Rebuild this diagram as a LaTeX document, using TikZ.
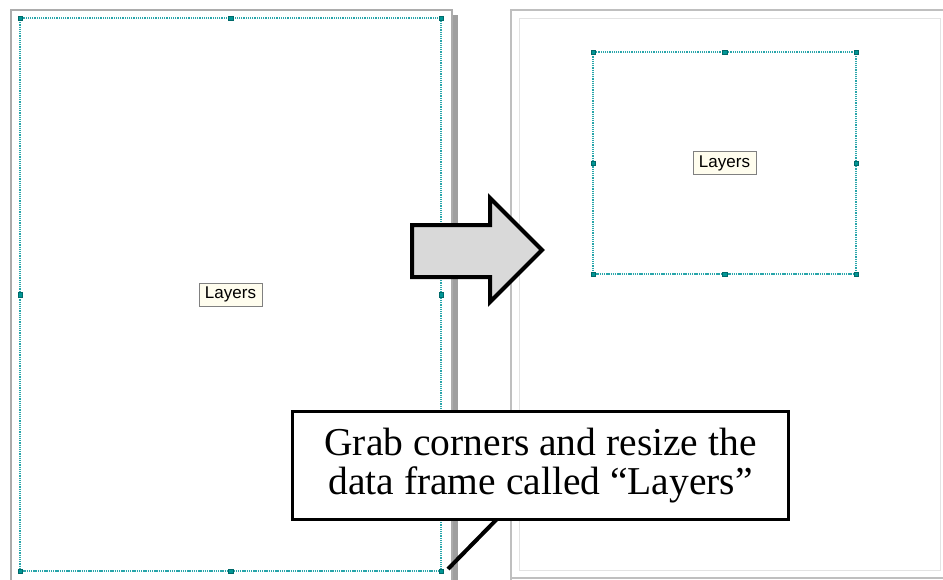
\documentclass[tikz,border=0pt]{standalone}
\usepackage{fontspec}
\setmainfont{Liberation Serif}
\newfontfamily\labelfont{Liberation Sans}
\usepackage{xcolor}
\usetikzlibrary{positioning,calc}

\definecolor{handleteal}{RGB}{0,150,150}
\definecolor{frameteal}{RGB}{40,165,170}
\definecolor{labelcream}{RGB}{255,253,238}

\begin{document}
\begin{tikzpicture}[x=1pt,y=-1pt,
    frame/.style={draw=frameteal,line width=1.3pt,dash pattern=on 1.3pt off 0.9pt,outer sep=0pt,inner sep=0pt},
    handle/.style={draw=handleteal!70!black,fill=handleteal,minimum size=4.5pt,inner sep=0pt,line width=0.5pt},
    layerlabel/.style={draw=gray,fill=labelcream,line width=1pt,minimum width=63pt,minimum height=23pt,inner sep=1pt,font=\labelfont\fontsize{17}{19}\selectfont},
    callout/.style={draw,line width=3.5pt,fill=white,align=center,minimum width=496pt,minimum height=108pt,font=\fontsize{39.5}{39}\selectfont}]
  \useasboundingbox (0,0) rectangle (943,579);
  \clip (0,0) rectangle (943,579);
  \fill[white] (0,0) rectangle (943,579);

  % left page
  \fill[gray!75] (453,15) rectangle (458,590);
  \draw[gray!65,line width=1.2pt] (11,590) -- (11,10) -- (452,10) -- (452,590);

  % right page
  \draw[gray!50,line width=1.2pt] (511,590) -- (511,10) -- (950,10);
  \draw[gray!50,line width=1.2pt] (511,578) -- (950,578);
  \draw[gray!22,line width=1pt,fill=white] (519,18) rectangle (940,570);

  % data frames
  \node[frame,minimum width=421pt,minimum height=553pt] (bigframe) at (230.5,294.5) {};
  \node[frame,minimum width=263pt,minimum height=222pt] (smallframe) at (724.5,163) {};
  \foreach \a in {north west,north,north east,west,east,south west,south,south east} {
    \node[handle] at (bigframe.\a) {};
    \node[handle] at (smallframe.\a) {};
  }
  \node[layerlabel] (biglabel) at (bigframe.center) {Layers};
  \node[layerlabel] (smalllabel) at (smallframe.center) {Layers};

  % block arrow
  \draw[line width=4pt,fill=gray!30,line join=miter]
    (412,225) -- (490,225) -- (490,198) -- (542,250) -- (490,302) -- (490,277) -- (412,277) -- cycle;

  % callout
  \coordinate (pointertip) at (448,569);
  \draw[line width=4pt] (498,518) -- (pointertip);
  \node[callout] (note) at (540.5,465.5) {Grab corners and resize the\\data frame called \textquotedblleft Layers\textquotedblright};
\end{tikzpicture}
\end{document}
